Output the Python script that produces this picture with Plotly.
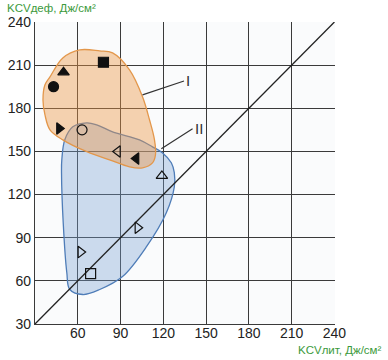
import plotly.graph_objects as go

# ---- data ----
x_ticks = [60, 90, 120, 150, 180, 210, 240]
y_ticks = [30, 60, 90, 120, 150, 180, 210, 240]

pt_x = [78, 50, 43, 47, 63, 88, 101, 119, 102, 62, 69]
pt_y = [212, 205, 195, 166, 165, 150, 145, 133, 97, 80, 65]
pt_symbol = ['square', 'triangle-up', 'circle', 'triangle-right', 'circle-open',
             'triangle-left-open', 'triangle-left', 'triangle-up-open',
             'triangle-right-open', 'triangle-right-open', 'square-open']

diag_x = [30, 240]
diag_y = [30, 240]

region1_x = [61.4, 75.4, 84.4, 96.3, 105.4, 110.3, 113.8, 114.5, 112.4, 105.4, 96.3,
             82.3, 66.3, 49.5, 40.5, 37.0, 35.6, 37.0, 40.5, 49.5, 61.4]
region1_y = [220.6, 219.9, 218.5, 206.7, 188.0, 172.0, 158.0, 147.7, 142.0, 138.6, 139.3,
             144.2, 149.8, 158.0, 165.0, 175.4, 185.8, 196.3, 201.8, 215.0, 220.6]

region2_x = [66.3, 56.5, 50.9, 48.8, 48.6, 49.8, 52.3, 54.4, 63.5, 75.4, 91.4, 108.2,
             122.1, 127.7, 127.7, 125.6, 119.3, 112.4, 103.3, 84.4, 73.3, 66.3]
region2_y = [169.9, 167.1, 158.1, 144.2, 135.2, 100.2, 65.8, 54.0, 50.5, 54.0, 63.0, 83.8,
             107.4, 125.4, 135.2, 142.1, 149.1, 153.2, 158.1, 163.6, 168.5, 169.9]

labels = ['I', 'II']
label_anchor_x = [105.4, 118.6]
label_anchor_y = [189.3, 151.8]
label_text_x = [134.5, 140.5]
label_text_y = [199.0, 165.7]

fig = go.Figure()

fig.add_trace(go.Scatter(
    x=region2_x, y=region2_y, mode='lines', fill='toself',
    line=dict(color='#4f7db8', width=1.3, shape='spline', smoothing=1.0),
    fillcolor='rgba(120,160,212,0.36)', hoverinfo='skip', showlegend=False))
fig.add_trace(go.Scatter(
    x=region1_x, y=region1_y, mode='lines', fill='toself',
    line=dict(color='#e3974b', width=1.3, shape='spline', smoothing=1.0),
    fillcolor='rgba(236,150,70,0.42)', hoverinfo='skip', showlegend=False))

fig.add_trace(go.Scatter(
    x=diag_x, y=diag_y, mode='lines', line=dict(color='#222222', width=1.3),
    hoverinfo='skip', showlegend=False))

fig.add_trace(go.Scatter(
    x=pt_x, y=pt_y, mode='markers',
    marker=dict(symbol=pt_symbol, size=10, color='#111111',
                line=dict(color='#111111', width=1.2)),
    showlegend=False))

for t, ax_, ay_, tx, ty in zip(labels, label_anchor_x, label_anchor_y, label_text_x, label_text_y):
    fig.add_annotation(
        x=ax_, y=ay_, ax=tx, ay=ty, axref='x', ayref='y', xref='x', yref='y',
        text=t, showarrow=True, arrowhead=0, arrowwidth=1.2, arrowcolor='#333333',
        font=dict(family='Liberation Sans, Arial, sans-serif', size=15, color='#333333'),
        xanchor='left')

axis_common = dict(
    showgrid=True, gridcolor='#3a3a3a', gridwidth=1.3,
    showline=True, linecolor='#3a3a3a', linewidth=1.3,
    zeroline=False, ticks='', automargin=False,
    tickfont=dict(family='Liberation Sans, Arial, sans-serif', size=14, color='#222222'),
)

fig.update_xaxes(range=[30, 240.4], tickvals=x_ticks, ticktext=[str(v) for v in x_ticks],
                 ticklabelstandoff=-4, **axis_common)
fig.update_yaxes(range=[30, 240], tickvals=y_ticks, ticktext=[str(v) for v in y_ticks],
                 **axis_common)

fig.add_annotation(
    x=-0.1, y=1.045, xref='paper', yref='paper', xanchor='left', yanchor='middle',
    text='KCVдеф, Дж/см²', showarrow=False,
    font=dict(family='Liberation Sans, Arial, sans-serif', size=11.5, color='#3c9a3c'))
fig.add_annotation(
    x=1.16, y=-0.086, xref='paper', yref='paper', xanchor='right', yanchor='middle',
    text='KCVлит, Дж/см²', showarrow=False,
    font=dict(family='Liberation Sans, Arial, sans-serif', size=11.5, color='#3c9a3c'))

fig.update_layout(
    width=388, height=360,
    margin=dict(l=35, r=53, t=22, b=36, autoexpand=False),
    paper_bgcolor='white', plot_bgcolor='#fafbfc',
)

fig.write_html('out.html', config={'displayModeBar': False},
               post_script="document.body.style.margin='0';")
